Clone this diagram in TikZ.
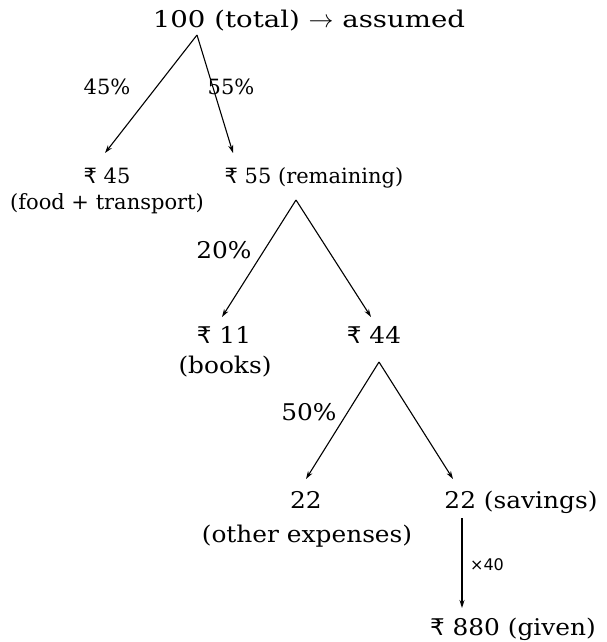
\documentclass[tikz,border=0pt]{standalone}
\usepackage{fontspec}
\setmainfont{DejaVu Serif}
\newfontfamily\wideserif[FakeStretch=1.08]{DejaVu Serif}
\newfontfamily\titleserif[FakeStretch=1.2]{DejaVu Serif}
\newfontfamily\rupfont{DejaVu Sans}
\newfontfamily\smallsans{DejaVu Sans}
\usetikzlibrary{arrows.meta}
\newcommand{\rup}{{\rupfont ₹}}
\begin{document}
\begin{tikzpicture}[x=1pt,y=-1pt,
  lbl/.style={anchor=base,inner sep=0pt,font=\fontsize{21}{24}\selectfont},
  lblb/.style={anchor=base,inner sep=0pt,font=\wideserif\fontsize{23}{26}\selectfont},
  ttl/.style={anchor=base,inner sep=0pt,font=\titleserif\fontsize{23}{26}\selectfont},
  arr/.style={draw,line width=1.1pt,-{Stealth[length=8pt,width=5pt]}}]
\useasboundingbox (0,0) rectangle (606,642);
\node[ttl] (top) at (309,28) {100 (total) $\rightarrow$ assumed};
\node[lbl] (p45) at (107,94) {45\%};
\node[lbl] (p55) at (231,94) {55\%};
\node[lbl] (n45) at (107,183) {\rup\ 45};
\node[lbl] (food) at (107,209) {(food + transport)};
\node[lbl] (n55) at (314,183) {\rup\ 55 (remaining)};
\node[lblb] (p20) at (224,258) {20\%};
\node[lblb] (n11) at (224,343) {\rup\ 11};
\node[lblb] (books) at (225,373) {(books)};
\node[lblb] (n44) at (374,343) {\rup\ 44};
\node[lblb] (p50) at (309,420) {50\%};
\node[lblb] (o22) at (306,508) {22};
\node[lblb] (other) at (307,542) {(other expenses)};
\node[lblb] (s22) at (521,508) {22 (savings)};
\node[anchor=base,inner sep=0pt,font=\smallsans\fontsize{16}{18}\selectfont] (x40) at (487,570) {×40};
\node[lblb] (given) at (513,635) {\rup\ 880 (given)};
\coordinate (a1) at (197,35);
\coordinate (e1l) at (105,153);
\coordinate (e1r) at (233,153);
\coordinate (a2) at (296,200);
\coordinate (e2l) at (222,317);
\coordinate (e2r) at (371,317);
\coordinate (a3) at (379,362);
\coordinate (e3l) at (306,479);
\coordinate (e3r) at (453,479);
\coordinate (v1) at (462,518);
\coordinate (v2) at (462,608);
\draw[arr] (a1) -- (e1l);
\draw[arr] (a1) -- (e1r);
\draw[arr] (a2) -- (e2l);
\draw[arr] (a2) -- (e2r);
\draw[arr] (a3) -- (e3l);
\draw[arr] (a3) -- (e3r);
\draw[arr] (v1) -- (v2);
\end{tikzpicture}
\end{document}
